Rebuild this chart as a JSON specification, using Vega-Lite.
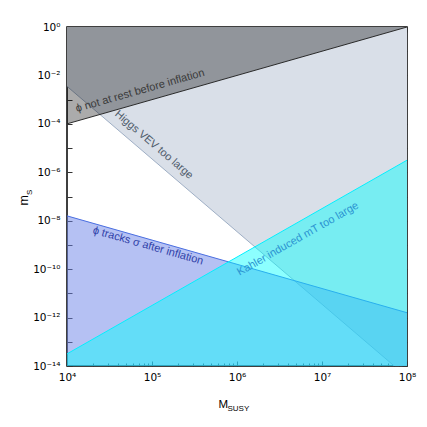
{
  "$schema": "https://vega.github.io/schema/vega-lite/v6.json",
  "width": 340,
  "height": 339,
  "autosize": {"type": "none"},
  "padding": {"left": 67, "top": 27, "right": 20, "bottom": 61},
  "background": "white",
  "config": {
    "font": "Liberation Sans",
    "view": {"stroke": "black", "strokeWidth": 1.5},
    "axis": {
      "grid": false,
      "domain": false,
      "tickColor": "#333333",
      "tickWidth": 1,
      "labelFont": "DejaVu Sans",
      "labelFontSize": 10.5,
      "labelColor": "black",
      "labelOverlap": false,
      "labelFlush": false,
      "labelBound": false,
      "titleFont": "Liberation Sans",
      "titleFontWeight": "normal",
      "titleColor": "black"
    }
  },
  "datasets": {
    "higgs": [
      {"M": 10000, "m": 0.003548, "top": 1},
      {"M": 70795000, "m": 1e-14, "top": 1},
      {"M": 100000000, "m": 1e-14, "top": 1}
    ],
    "rest": [
      {"M": 10000, "m": 0.0001, "top": 1},
      {"M": 100000000, "m": 1, "top": 1}
    ],
    "tracks": [
      {"M": 10000, "m": 1.585e-8, "bottom": 1e-14},
      {"M": 100000000, "m": 1.585e-12, "bottom": 1e-14}
    ],
    "kahler": [
      {"M": 10000, "m": 3.162e-14, "bottom": 1e-14},
      {"M": 100000000, "m": 3.162e-6, "bottom": 1e-14}
    ]
  },
  "layer": [
    {
      "data": {"name": "higgs"},
      "mark": {"type": "area", "color": "#d9dfe8", "opacity": 1, "clip": true, "line": {"color": "#9eaec4", "strokeWidth": 1}},
      "encoding": {
        "x": {
          "field": "M", "type": "quantitative",
          "scale": {"type": "log", "domain": [10000, 100000000], "nice": false},
          "axis": {
            "orient": "bottom",
            "values": [10000, 100000, 1000000, 10000000, 100000000],
            "tickSize": -5,
            "labelPadding": 11,
            "labelExpr": "datum.value == 10000 ? '10⁴' : datum.value == 100000 ? '10⁵' : datum.value == 1000000 ? '10⁶' : datum.value == 10000000 ? '10⁷' : '10⁸'",
            "title": "M",
            "titleFontSize": 11.5,
            "titleAlign": "left",
            "titleBaseline": "alphabetic",
            "titleAnchor": "start",
            "titleX": 151,
            "titleY": 41
          }
        },
        "y": {
          "field": "m", "type": "quantitative",
          "scale": {"type": "log", "domain": [1e-14, 1], "nice": false},
          "axis": {
            "orient": "left",
            "values": [1, 0.1, 0.01, 0.001, 0.0001, 0.00001, 0.000001, 1e-7, 1e-8, 1e-9, 1e-10, 1e-11, 1e-12, 1e-13, 1e-14],
            "tickSize": -5,
            "labelPadding": 12,
            "labelExpr": "datum.value == 1 ? '10⁰' : datum.value == 0.01 ? '10⁻²' : datum.value == 0.0001 ? '10⁻⁴' : datum.value == 0.000001 ? '10⁻⁶' : datum.value == 1e-8 ? '10⁻⁸' : datum.value == 1e-10 ? '10⁻¹⁰' : datum.value == 1e-12 ? '10⁻¹²' : datum.value == 1e-14 ? '10⁻¹⁴' : ''",
            "title": "m",
            "titleFontSize": 12.5,
            "titleAngle": 270,
            "titleAlign": "left",
            "titleBaseline": "alphabetic",
            "titleAnchor": "start",
            "titleX": -40,
            "titleY": 178
          }
        },
        "y2": {"field": "top"}
      }
    },
    {
      "data": {"name": "rest"},
      "mark": {"type": "area", "color": "#000000", "opacity": 0.33, "clip": true, "line": {"color": "#2a2a2a", "strokeWidth": 1, "opacity": 1}},
      "encoding": {
        "x": {
          "field": "M", "type": "quantitative",
          "axis": {
            "orient": "bottom",
            "values": [20000, 30000, 40000, 50000, 60000, 70000, 80000, 90000, 200000, 300000, 400000, 500000, 600000, 700000, 800000, 900000, 2000000, 3000000, 4000000, 5000000, 6000000, 7000000, 8000000, 9000000, 20000000, 30000000, 40000000, 50000000, 60000000, 70000000, 80000000, 90000000],
            "tickSize": -3,
            "labels": false,
            "title": "SUSY",
            "titleFontSize": 8,
            "titleAlign": "left",
            "titleBaseline": "alphabetic",
            "titleAnchor": "start",
            "titleX": 160,
            "titleY": 44
          }
        },
        "y": {
          "field": "m", "type": "quantitative",
          "axis": {
            "orient": "left",
            "values": [1, 1e-14],
            "tickSize": -5,
            "labels": false,
            "title": "S",
            "titleFontSize": 8,
            "titleAngle": 270,
            "titleAlign": "left",
            "titleBaseline": "alphabetic",
            "titleAnchor": "start",
            "titleX": -36,
            "titleY": 167.5
          }
        },
        "y2": {"field": "top"}
      }
    },
    {
      "data": {"name": "tracks"},
      "mark": {"type": "area", "color": "#6b84e8", "opacity": 0.5, "clip": true, "line": {"color": "#4a6ee0", "strokeWidth": 1, "opacity": 1}},
      "encoding": {
        "x": {
          "field": "M", "type": "quantitative",
          "axis": {"orient": "top", "values": [10000, 100000, 1000000, 10000000, 100000000], "tickSize": -5, "labels": false, "title": null}
        },
        "y": {
          "field": "m", "type": "quantitative",
          "axis": {"orient": "right", "values": [1, 0.1, 0.01, 0.001, 0.0001, 0.00001, 0.000001, 1e-7, 1e-8, 1e-9, 1e-10, 1e-11, 1e-12, 1e-13, 1e-14], "tickSize": -5, "labels": false, "title": null}
        },
        "y2": {"field": "bottom"}
      }
    },
    {
      "data": {"name": "kahler"},
      "mark": {"type": "area", "color": "#00ffff", "opacity": 0.45, "clip": true, "line": {"color": "#00f0ff", "strokeWidth": 1, "opacity": 1}},
      "encoding": {
        "x": {
          "field": "M", "type": "quantitative",
          "axis": {
            "orient": "top",
            "values": [20000, 30000, 40000, 50000, 60000, 70000, 80000, 90000, 200000, 300000, 400000, 500000, 600000, 700000, 800000, 900000, 2000000, 3000000, 4000000, 5000000, 6000000, 7000000, 8000000, 9000000, 20000000, 30000000, 40000000, 50000000, 60000000, 70000000, 80000000, 90000000],
            "tickSize": -3, "labels": false, "title": null
          }
        },
        "y": {"field": "m", "type": "quantitative", "axis": null},
        "y2": {"field": "bottom"}
      }
    },
    {
      "data": {"values": [{"M": 72440, "m": 0.00229, "label": "ϕ not at rest before inflation"}]},
      "mark": {"type": "text", "angle": -15.9, "fontSize": 11, "color": "#3a3a3a", "align": "center", "baseline": "middle"},
      "encoding": {
        "x": {"field": "M", "type": "quantitative", "axis": null},
        "y": {"field": "m", "type": "quantitative", "axis": null},
        "text": {"field": "label"}
      }
    },
    {
      "data": {"values": [{"M": 105000, "m": 0.0000135, "label": "Higgs VEV too large"}]},
      "mark": {"type": "text", "angle": 40.5, "fontSize": 11, "color": "#4f5b6b", "align": "center", "baseline": "middle"},
      "encoding": {
        "x": {"field": "M", "type": "quantitative", "axis": null},
        "y": {"field": "m", "type": "quantitative", "axis": null},
        "text": {"field": "label"}
      }
    },
    {
      "data": {"values": [{"M": 89800, "m": 9.0e-10, "label": "ϕ tracks σ after inflation"}]},
      "mark": {"type": "text", "angle": 15.9, "fontSize": 11, "color": "#2f3fa8", "align": "center", "baseline": "middle"},
      "encoding": {
        "x": {"field": "M", "type": "quantitative", "axis": null},
        "y": {"field": "m", "type": "quantitative", "axis": null},
        "text": {"field": "label"}
      }
    },
    {
      "data": {"values": [{"M": 5220000, "m": 1.75e-9, "label": "Kahler induced mT too large"}]},
      "mark": {"type": "text", "angle": -29.7, "fontSize": 11, "color": "#2b93d1", "align": "center", "baseline": "middle"},
      "encoding": {
        "x": {"field": "M", "type": "quantitative", "axis": null},
        "y": {"field": "m", "type": "quantitative", "axis": null},
        "text": {"field": "label"}
      }
    }
  ],
  "resolve": {"axis": {"x": "independent", "y": "independent"}}
}
